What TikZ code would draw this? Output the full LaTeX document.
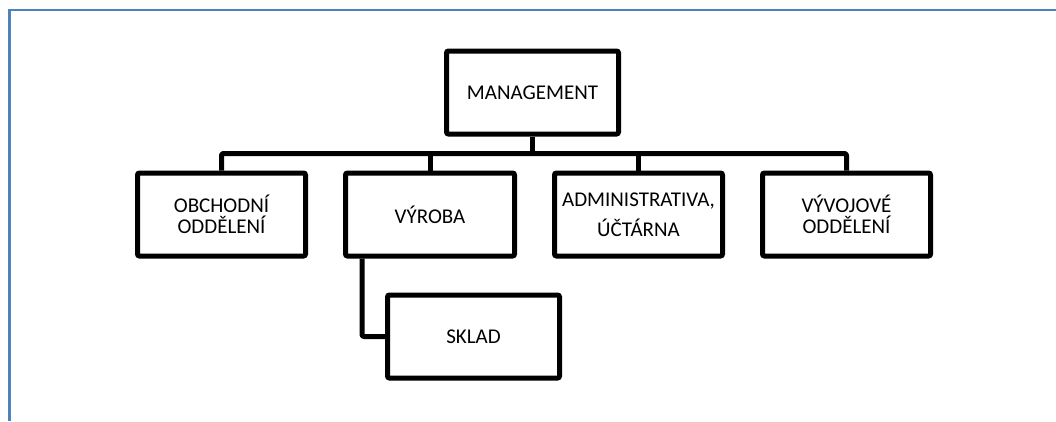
\documentclass[tikz,border=0pt]{standalone}
\usepackage{fontspec}
\setmainfont{Carlito}
\begin{document}
\begin{tikzpicture}[x=1pt,y=-1pt,
  orgbox/.style={draw=black, line width=5pt, rounded corners=2pt, fill=white,
    minimum width=169pt, minimum height=83pt, inner sep=0pt, align=center,
    font=\fontsize{21}{21}\selectfont},
  link/.style={draw=black, line width=5pt, rounded corners=2pt, line join=round},
  frame/.style={draw=frameblue, line width=2.6pt}]
\definecolor{frameblue}{HTML}{4F81BD}
% canvas
\useasboundingbox (0,0) rectangle (1056,421);
\fill[white] (0,0) rectangle (1056,421);
% outer frame (open towards the right and bottom)
\draw[frame] (9.5,421) -- (9.5,10) -- (1056,10);

% boxes
\node[orgbox, minimum width=172pt] (mgmt) at (532.5,92.5) {MANAGEMENT};
\node[orgbox, minimum width=168pt] (obch) at (221.5,214.5) {OBCHODNÍ\\ODDĚLENÍ};
\node[orgbox] (vyroba) at (430,214.5) {VÝROBA};
\node[orgbox, minimum width=168pt] (admin) at (638.5,214.5) {ADMINISTRATIVA,\\[9pt]ÚČTÁRNA};
\node[orgbox, minimum width=168pt] (vyvoj) at (846.5,214.5) {VÝVOJOVÉ\\ODDĚLENÍ};
\node[orgbox, minimum width=172pt] (sklad) at (473.5,336.5) {SKLAD};

% connectors
\coordinate (bus) at (532.5,153.5);
\draw[link] (mgmt.south) -- (bus);
\draw[link] (obch.north) -- (obch.north |- bus) -- (vyvoj.north |- bus) -- (vyvoj.north);
\draw[link] (vyroba.north) -- (vyroba.north |- bus);
\draw[link] (admin.north) -- (admin.north |- bus);
\draw[link] ([xshift=19pt]vyroba.south west) |- (sklad.west);
\end{tikzpicture}
\end{document}
